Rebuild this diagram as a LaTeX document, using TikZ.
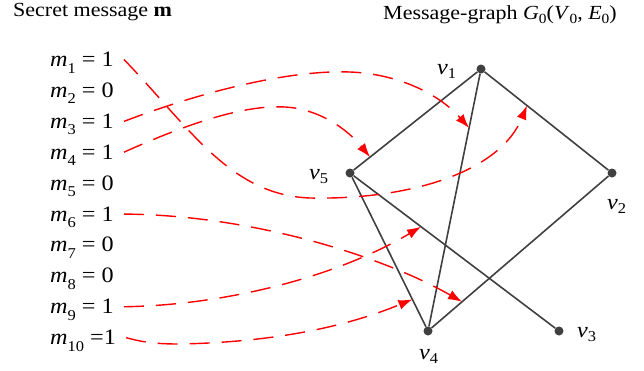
\documentclass[tikz,border=0pt]{standalone}
\usepackage{fontspec}
\setmainfont[FakeStretch=1.1]{Liberation Serif}
\usetikzlibrary{arrows.meta,calc}
\definecolor{gcol}{RGB}{64,64,64}
\newcommand\lsub[2][6.5pt]{\raisebox{-#1}{\fontsize{15}{15}\selectfont #2}}
\newcommand\tsub[1]{\raisebox{-4pt}{\fontsize{14}{14}\selectfont #1}}
\begin{document}
\begin{tikzpicture}[x=1pt,y=-1pt,
  lbl/.style={inner sep=0pt, anchor=base west, font=\fontsize{22}{26}\selectfont},
  mlbl/.style={lbl, inner xsep=10pt, inner ysep=0pt},
  ttl/.style={inner sep=0pt, anchor=base west, font=\fontsize{20}{24}\selectfont},
  vert/.style={circle, fill=gcol, inner sep=0pt, minimum size=9pt},
  edge/.style={gcol, line width=1.6pt},
  link/.style={red, line width=1.4pt, dash pattern=on 20pt off 12pt,
    -{Latex[length=14pt,width=10pt]}}]
\useasboundingbox (0,0) rectangle (644,370);

% titles
\node[ttl] (t1) at (13,16.5) {Secret message \textbf{m}};
\node[ttl] (t2) at (383,19) {Message-graph \textit{G}\tsub{0}(\textit{V}\tsub{0}, \textit{E}\tsub{0})};

% message bits
\node[mlbl] (m1) at (40,66.5) {\textit{m}\lsub{1} = 1};
\node[mlbl] (m2) at (40,97.4) {\textit{m}\lsub{2} = 0};
\node[mlbl] (m3) at (40,128.3) {\textit{m}\lsub{3} = 1};
\node[mlbl] (m4) at (40,159.2) {\textit{m}\lsub{4} = 1};
\node[mlbl] (m5) at (40,190.1) {\textit{m}\lsub{5} = 0};
\node[mlbl] (m6) at (40,221) {\textit{m}\lsub{6} = 1};
\node[mlbl] (m7) at (40,251.9) {\textit{m}\lsub{7} = 0};
\node[mlbl] (m8) at (40,282.8) {\textit{m}\lsub{8} = 0};
\node[mlbl] (m9) at (40,313.7) {\textit{m}\lsub{9} = 1};
\node[mlbl] (m10) at (40,344.6) {\textit{m}\lsub{10} =1};

% graph vertices
\node[vert] (v1) at (481,69) {};
\node[vert] (v2) at (612,173) {};
\node[vert] (v3) at (559,331) {};
\node[vert] (v4) at (428,331) {};
\node[vert] (v5) at (350,173) {};

% vertex labels
\node[lbl] (l1) at (437,74) {\textit{v}\lsub[4.5pt]{1}};
\node[lbl] (l2) at (607,209) {\textit{v}\lsub[4.5pt]{2}};
\node[lbl] (l3) at (577,337) {\textit{v}\lsub[4.5pt]{3}};
\node[lbl] (l4) at (419,359) {\textit{v}\lsub[4.5pt]{4}};
\node[lbl] (l5) at (309,179) {\textit{v}\lsub[4.5pt]{5}};

% edges
\draw[edge] (v1) -- (v5);
\draw[edge] (v1) -- (v2);
\draw[edge] (v1) -- (v4);
\draw[edge] (v5) -- (v4);
\draw[edge] (v5) -- (v3);
\draw[edge] (v2) -- (v4);

% arrow targets on edges
\coordinate (a1) at ($(v1)!0.351!(v2)$);
\coordinate (a3) at ($(v1)!0.225!(v4)$);
\coordinate (a4) at ($(v5)!0.153!(v1)$);
\coordinate (a6) at ($(v4)!0.185!(v2)$);
\coordinate (a9) at ($(v5)!0.34!(v3)$);
\coordinate (a10) at ($(v5)!0.80!(v4)$);

% links
\draw[link] ([yshift=3pt]m1.east) .. controls (190,128) and (230,195) .. (310,198)
  .. controls (410,200) and (500,172) .. (a1);
\draw[link] ([yshift=3pt]m3.east) .. controls (220,85) and (300,70) .. (350,72)
  .. controls (400,74) and (440,95) .. (a3);
\draw[link] ([yshift=3pt]m4.east) .. controls (200,118) and (250,105) .. (285,107)
  .. controls (320,109) and (348,130) .. (a4);
\draw[link] ([yshift=3pt]m6.east) .. controls (250,215) and (380,255) .. (a6);
\draw[link] ([yshift=3pt]m9.east) .. controls (230,305) and (340,275) .. (a9);
\draw[link] ([yshift=3pt]m10.east) .. controls (145,343) and (160,344) .. (180,344)
  .. controls (280,342) and (350,325) .. (a10);
\end{tikzpicture}
\end{document}
